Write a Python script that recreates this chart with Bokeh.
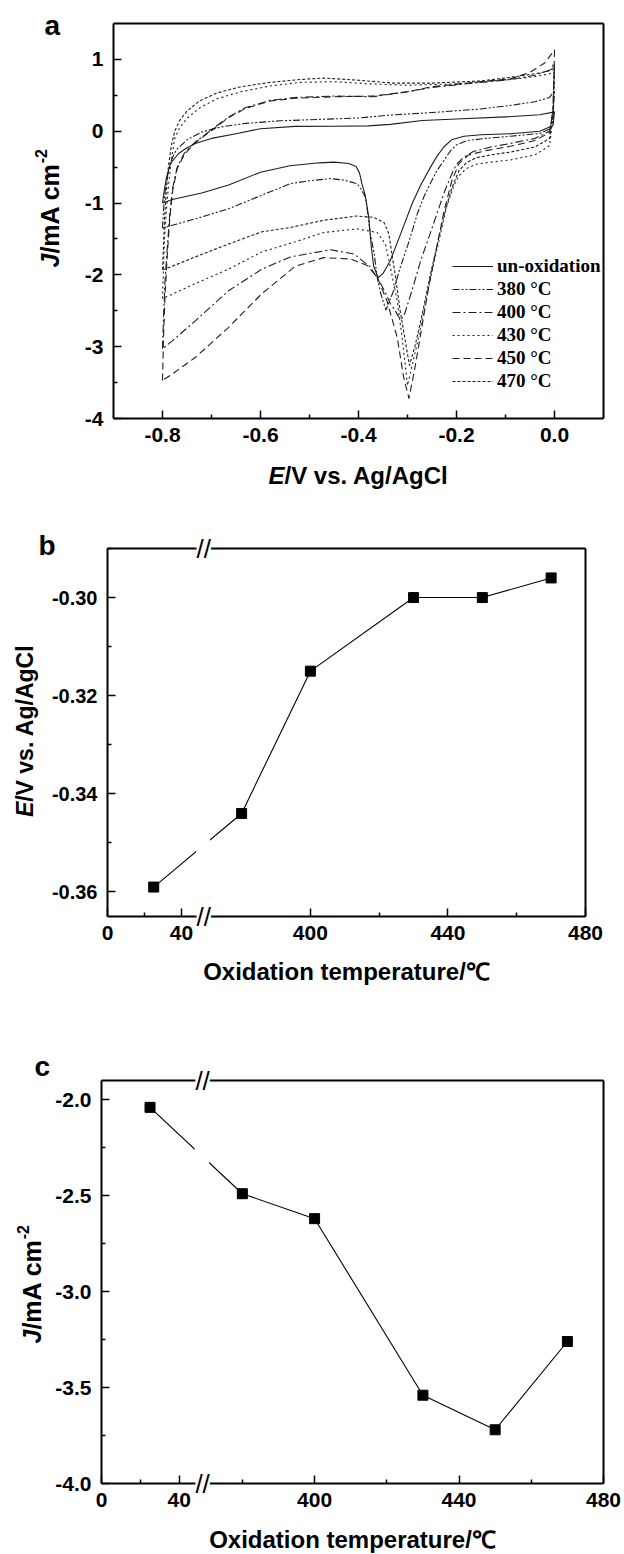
import math
from bokeh.plotting import figure
from bokeh.layouts import column
from bokeh.models import (Range1d, FixedTicker, PrintfTickFormatter, LinearAxis,
                          Label, Legend, LegendItem)
from bokeh.embed import file_html
from bokeh.resources import INLINE

# ---------------- data: panel a (cyclic voltammograms, E in V, J in mA cm-2) ----------------
legend_labels = ["un-oxidation", "380 \u00b0C", "400 \u00b0C", "430 \u00b0C", "450 \u00b0C", "470 \u00b0C"]

e_unox = [-0.800, -0.797, -0.792, -0.784, -0.767, -0.750, -0.733, -0.700, -0.650, -0.600, -0.530,
          -0.450, -0.380, -0.335, -0.270, -0.200, -0.100, -0.030, 0.000,
          -0.003, -0.030, -0.090, -0.150, -0.185, -0.210, -0.226, -0.240, -0.253, -0.273, -0.290,
          -0.314, -0.335, -0.350, -0.360, -0.369, -0.374, -0.379, -0.386, -0.393, -0.398, -0.405,
          -0.420, -0.450, -0.480, -0.540, -0.600, -0.665, -0.720, -0.780, -0.800]
j_unox = [-1.00, -0.85, -0.65, -0.45, -0.31, -0.23, -0.17, -0.10, -0.035, 0.035, 0.067,
          0.07, 0.075, 0.095, 0.15, 0.17, 0.20, 0.23, 0.27,
          0.08, 0.00, -0.035, -0.05, -0.07, -0.12, -0.22, -0.35, -0.50, -0.75, -1.00,
          -1.43, -1.80, -1.98, -2.04, -1.88, -1.60, -1.20, -0.90, -0.73, -0.58, -0.49,
          -0.45, -0.43, -0.44, -0.48, -0.57, -0.75, -0.86, -0.95, -1.00]

e_380 = [-0.800, -0.798, -0.795, -0.790, -0.783, -0.772, -0.750, -0.720, -0.680, -0.630, -0.560,
         -0.480, -0.400, -0.335, -0.250, -0.150, -0.090, -0.040, -0.010, 0.000,
         -0.003, -0.010, -0.030, -0.090, -0.140, -0.178, -0.200, -0.212, -0.225, -0.240,
         -0.255, -0.267, -0.280, -0.290, -0.300, -0.315, -0.330, -0.344, -0.355, -0.362,
         -0.368, -0.376, -0.382, -0.386, -0.395, -0.403, -0.430, -0.457, -0.500, -0.539,
         -0.597, -0.665, -0.733, -0.780, -0.800]
j_380 = [-1.35, -1.10, -0.85, -0.62, -0.42, -0.26, -0.12, -0.01, 0.06, 0.11, 0.145,
         0.165, 0.185, 0.225, 0.26, 0.31, 0.36, 0.41, 0.47, 0.57,
         0.20, 0.03, -0.03, -0.07, -0.10, -0.13, -0.19, -0.27, -0.40, -0.55,
         -0.75, -0.92, -1.15, -1.38, -1.60, -1.90, -2.25, -2.49, -2.25, -2.03,
         -1.70, -1.43, -1.10, -0.92, -0.80, -0.73, -0.68, -0.66, -0.69, -0.73,
         -0.89, -1.08, -1.22, -1.31, -1.35]

e_400 = [-0.800, -0.798, -0.795, -0.790, -0.785, -0.779, -0.770, -0.755, -0.733, -0.700, -0.665,
         -0.630, -0.580, -0.530, -0.450, -0.370, -0.300, -0.250, -0.165, -0.090, -0.040, -0.010, 0.000,
         -0.003, -0.010, -0.040, -0.090, -0.130, -0.165, -0.185, -0.200, -0.210, -0.225,
         -0.240, -0.255, -0.273, -0.290, -0.308, -0.315, -0.325, -0.335, -0.345, -0.355,
         -0.376, -0.409, -0.457, -0.539, -0.597, -0.665, -0.733, -0.780, -0.800]
j_400 = [-3.03, -2.60, -2.10, -1.60, -1.15, -0.78, -0.50, -0.30, -0.15, 0.02, 0.20,
         0.33, 0.43, 0.47, 0.49, 0.48, 0.55, 0.61, 0.67, 0.72, 0.78, 0.85, 0.95,
         0.30, 0.00, -0.10, -0.17, -0.22, -0.28, -0.36, -0.46, -0.60, -0.85,
         -1.15, -1.45, -1.80, -2.20, -2.59, -2.62, -2.50, -2.40, -2.25, -2.12,
         -1.89, -1.71, -1.65, -1.75, -1.92, -2.22, -2.64, -2.92, -3.03]

e_430 = [-0.800, -0.798, -0.796, -0.792, -0.787, -0.782, -0.775, -0.765, -0.750, -0.725, -0.690,
         -0.640, -0.580, -0.520, -0.450, -0.380, -0.300, -0.200, -0.090, -0.040, -0.010, 0.000,
         -0.003, -0.010, -0.040, -0.090, -0.130, -0.160, -0.180, -0.195, -0.205, -0.220,
         -0.235, -0.250, -0.265, -0.280, -0.300, -0.304, -0.311, -0.321, -0.335, -0.345,
         -0.362, -0.403, -0.471, -0.529, -0.597, -0.665, -0.733, -0.780, -0.800]
j_430 = [-2.33, -1.90, -1.50, -1.10, -0.70, -0.40, -0.10, 0.05, 0.18, 0.32, 0.45,
         0.55, 0.63, 0.68, 0.69, 0.66, 0.64, 0.66, 0.72, 0.76, 0.80, 0.87,
         0.20, -0.20, -0.33, -0.40, -0.43, -0.46, -0.52, -0.62, -0.75, -1.05,
         -1.50, -1.95, -2.45, -2.95, -3.54, -3.29, -2.87, -2.36, -1.89, -1.57,
         -1.41, -1.36, -1.41, -1.54, -1.68, -1.92, -2.12, -2.27, -2.33]

e_450 = [-0.800, -0.798, -0.795, -0.790, -0.785, -0.779, -0.770, -0.755, -0.733, -0.700, -0.665,
         -0.630, -0.580, -0.530, -0.450, -0.370, -0.300, -0.250, -0.165, -0.090, -0.050, -0.020, 0.000,
         -0.003, -0.010, -0.040, -0.090, -0.140, -0.175, -0.195, -0.210, -0.225, -0.240,
         -0.255, -0.270, -0.285, -0.297, -0.308, -0.321, -0.342, -0.362, -0.382, -0.416,
         -0.471, -0.529, -0.597, -0.665, -0.733, -0.780, -0.800]
j_450 = [-3.47, -2.90, -2.30, -1.70, -1.20, -0.82, -0.52, -0.32, -0.16, 0.01, 0.19,
         0.32, 0.42, 0.46, 0.48, 0.49, 0.55, 0.62, 0.68, 0.73, 0.82, 0.95, 1.13,
         0.30, -0.02, -0.13, -0.21, -0.27, -0.33, -0.45, -0.70, -1.10, -1.60,
         -2.10, -2.70, -3.30, -3.72, -3.42, -2.87, -2.36, -2.03, -1.87, -1.78,
         -1.76, -1.88, -2.26, -2.73, -3.15, -3.38, -3.47]

e_470 = [-0.800, -0.798, -0.796, -0.793, -0.788, -0.782, -0.775, -0.765, -0.750, -0.725, -0.690,
         -0.640, -0.580, -0.520, -0.470, -0.400, -0.330, -0.250, -0.150, -0.090, -0.040, -0.010, 0.000,
         -0.003, -0.010, -0.040, -0.090, -0.130, -0.160, -0.180, -0.195, -0.210, -0.225,
         -0.240, -0.255, -0.270, -0.285, -0.296, -0.305, -0.315, -0.325, -0.331, -0.338,
         -0.348, -0.369, -0.403, -0.471, -0.539, -0.597, -0.665, -0.733, -0.780, -0.800]
j_470 = [-1.93, -1.60, -1.25, -0.90, -0.50, -0.20, 0.00, 0.15, 0.28, 0.42, 0.53,
         0.62, 0.68, 0.72, 0.74, 0.71, 0.67, 0.67, 0.70, 0.75, 0.80, 0.84, 0.90,
         0.20, -0.10, -0.22, -0.29, -0.33, -0.37, -0.44, -0.55, -0.80, -1.15,
         -1.60, -2.05, -2.55, -3.00, -3.26, -2.90, -2.50, -2.00, -1.75, -1.43,
         -1.27, -1.20, -1.18, -1.24, -1.34, -1.40, -1.57, -1.75, -1.88, -1.93]

# ---------------- data: panels b and c ----------------
temps = [25, 380, 400, 430, 450, 470]              # oxidation temperature, deg C (25 = un-oxidised)
peak_E = [-0.359, -0.344, -0.315, -0.300, -0.300, -0.296]   # V vs. Ag/AgCl
peak_J = [-2.04, -2.49, -2.62, -3.54, -3.72, -3.26]         # mA cm-2

a_xticks = [-0.8, -0.6, -0.4, -0.2, 0.0]
a_yticks = [-4, -3, -2, -1, 0, 1]
b_yticks = [-0.36, -0.34, -0.32, -0.30]
c_yticks = [-4.0, -3.5, -3.0, -2.5, -2.0]
t_ticks = [0, 40, 400, 440, 480]

# ---------------- styling helpers ----------------
SANS = "Liberation Sans"
SERIF = "Liberation Serif"
INK = "#000000"
CURVE = "#1e1e1e"
W = 624
BL = 8.5   # renderer puts the alphabetic baseline this many px below the anchor


def brk(t):
    """display coordinate of the broken temperature axis (0-52 compressed, then 369-480)"""
    return 341 + t * 0.5375 if t < 100 else float(t)


class Frame:
    """inner plot box (page pixels) and its data ranges; the Bokeh frame fills the whole figure"""
    def __init__(self, page_top, fig_h, left, top, width, height, x0, x1, y0, y1):
        self.page_top, self.fig_h = page_top, fig_h
        self.left, self.top, self.width, self.height = left, top, width, height
        self.x0, self.x1, self.y0, self.y1 = x0, x1, y0, y1

    def dx(self, px):
        return self.x0 + (px - self.left) / self.width * (self.x1 - self.x0)

    def dy(self, py):
        return self.y1 - (py - self.top) / self.height * (self.y1 - self.y0)


def make_fig(fr):
    p = figure(width=W, height=fr.fig_h,
               x_range=Range1d(fr.dx(0), fr.dx(W)),
               y_range=Range1d(fr.dy(fr.page_top + fr.fig_h), fr.dy(fr.page_top)),
               output_backend="svg", toolbar_location=None,
               x_axis_location=None, y_axis_location=None,
               min_border=0, min_border_left=0, min_border_right=0,
               min_border_top=0, min_border_bottom=0)
    p.grid.visible = False
    p.outline_line_color = None
    p.background_fill_color = "white"
    p.border_fill_color = "white"
    return p


def add_axes(p, fr, xticks, xminor, yticks, yminor, xfmt, yfmt, xsize="21px", ysize="21px"):
    bx = LinearAxis(fixed_location=fr.y0, bounds=(fr.x0, fr.x1))
    ly = LinearAxis(fixed_location=fr.x0, bounds=(fr.y0, fr.y1))
    for ax, ticks, minor, fmt, size in ((bx, xticks, xminor, xfmt, xsize), (ly, yticks, yminor, yfmt, ysize)):
        ax.ticker = FixedTicker(ticks=ticks, minor_ticks=minor)
        if isinstance(fmt, dict):
            ax.major_label_overrides = fmt
        else:
            ax.formatter = PrintfTickFormatter(format=fmt)
        ax.axis_line_width = 2
        ax.axis_line_color = INK
        ax.major_tick_in = 8
        ax.major_tick_out = 0
        ax.minor_tick_in = 4
        ax.minor_tick_out = 0
        ax.major_tick_line_width = 1.5
        ax.minor_tick_line_width = 1.5
        ax.major_tick_line_color = INK
        ax.minor_tick_line_color = INK
        ax.major_label_text_font = SANS
        ax.major_label_text_font_style = "bold"
        ax.major_label_text_font_size = size
        ax.major_label_text_color = INK
    bx.major_label_standoff = 9
    ly.major_label_standoff = 10
    p.add_layout(bx, "below")
    p.add_layout(ly, "left")
    for loc, fixed, bounds in (("above", fr.y1, (fr.x0, fr.x1)), ("right", fr.x1, (fr.y0, fr.y1))):
        ax = LinearAxis(fixed_location=fixed, bounds=bounds, ticker=FixedTicker(ticks=[]),
                        axis_line_width=2, axis_line_color=INK,
                        major_tick_line_color=None, minor_tick_line_color=None,
                        major_tick_out=0, minor_tick_out=0, major_label_standoff=0,
                        major_label_text_font_size="0px")
        p.add_layout(ax, loc)


def label(p, fr, px, py, text, size, style="bold", angle=0.0, align="left", font=SANS):
    if angle == 0.0:
        py -= BL
    else:
        px -= BL
    p.add_layout(Label(x=fr.dx(px), y=fr.dy(py), text=text, text_font=font, text_font_size=size,
                       text_font_style=style, text_color=INK, angle=angle, text_align=align,
                       text_baseline="alphabetic"))


# ---------------- panel a ----------------
fa = Frame(0, 500, 113, 23, 490, 395, -0.9, 0.1, -4.0, 1.5)
pa = make_fig(fa)
add_axes(pa, fa, a_xticks, [-0.7, -0.5, -0.3, -0.1], a_yticks, [-3.5, -2.5, -1.5, -0.5, 0.5],
         "%.1f", "%d")

series = [(e_unox, j_unox, "solid"), (e_380, j_380, "7 2 2 2 2 2"), (e_400, j_400, "8 3 2 3"),
          (e_430, j_430, "2 3"), (e_450, j_450, "7 4"), (e_470, j_470, "3 2")]
items = []
for (es, js, dash), name in zip(series, legend_labels):
    r = pa.line(es, js, line_color=CURVE, line_width=1.1, line_dash=dash, line_join="round")
    items.append(LegendItem(label=name, renderers=[r]))
legend = Legend(items=items, location=(452, 108), padding=0, margin=0, spacing=1,
                glyph_width=41, glyph_height=20, label_height=20, label_standoff=4,
                label_text_font=SERIF, label_text_font_style="bold", label_text_font_size="19px",
                label_text_color=INK, border_line_color=None, background_fill_alpha=0)
pa.add_layout(legend)

label(pa, fa, 44, 33, "a", "28px")
label(pa, fa, 58, 267, "J", "25px", style="bold italic", angle=math.pi / 2)
label(pa, fa, 58, 253.1, "/mA cm", "25px", angle=math.pi / 2)
label(pa, fa, 49, 162.8, "-2", "16px", angle=math.pi / 2)
label(pa, fa, 268, 483, "E", "24px", style="bold italic")
label(pa, fa, 284, 483, "/V vs. Ag/AgCl", "24px")

# ---------------- panels b and c (broken temperature axis) ----------------
u_temps = [brk(t) for t in temps]
t_over = {341: "0", 362.5: "40", 400: "400", 440: "440", 480: "480"}
t_major = [brk(t) for t in t_ticks]


def broken_panel(fr, yvals, yticks, yminor, yfmt, ysize, t_minor):
    p = make_fig(fr)
    p.line(u_temps, yvals, line_color=INK, line_width=1.1)
    p.quad(left=[366.8], right=[370.8], bottom=[fr.y0], top=[fr.y1], fill_color="white",
           line_color=None)
    p.scatter(u_temps, yvals, marker="square", size=10, fill_color=INK, line_color=INK)
    add_axes(p, fr, t_major, t_minor, yticks, yminor, t_over, yfmt, ysize=ysize)
    for yv in (fr.y0, fr.y1):
        p.add_layout(Label(x=369, y=yv, text="//", text_font=SANS, text_font_size="26px",
                           text_color=INK, text_align="center", text_baseline="middle",
                           background_fill_color="white"))
    return p


fb = Frame(500, 510, 107, 548, 478, 368, 341, 480, -0.365, -0.29)
pb = broken_panel(fb, peak_E, b_yticks, [-0.35, -0.33, -0.31, -0.29], "%.2f", "20px",
                  [brk(20), 420.0, 460.0])
label(pb, fb, 38, 553.5, "b", "28px")
label(pb, fb, 33, 816.6, "E", "23px", style="bold italic", angle=math.pi / 2)
label(pb, fb, 33, 801.3, "/V vs. Ag/AgCl", "23px", angle=math.pi / 2)
label(pb, fb, 346, 979, "Oxidation temperature/\u2103", "24px", align="center")

fc = Frame(1010, 544, 101, 1080, 502, 403, 341, 480, -4.0, -1.9)
pc = broken_panel(fc, peak_J, c_yticks, [-3.75, -3.25, -2.75, -2.25], "%.1f", "21px",
                  [brk(20), 380.0, 420.0, 460.0])
label(pc, fc, 34, 1074.5, "c", "28px")
label(pc, fc, 39.5, 1343, "J", "25px", style="bold italic", angle=math.pi / 2)
label(pc, fc, 39.5, 1329.1, "/mA cm", "25px", angle=math.pi / 2)
label(pc, fc, 30.5, 1238.8, "-2", "16px", angle=math.pi / 2)
label(pc, fc, 352, 1547, "Oxidation temperature/\u2103", "24px", align="center")

layout = column(pa, pb, pc, spacing=0)
open("out.html", "w").write(file_html(layout, INLINE))
